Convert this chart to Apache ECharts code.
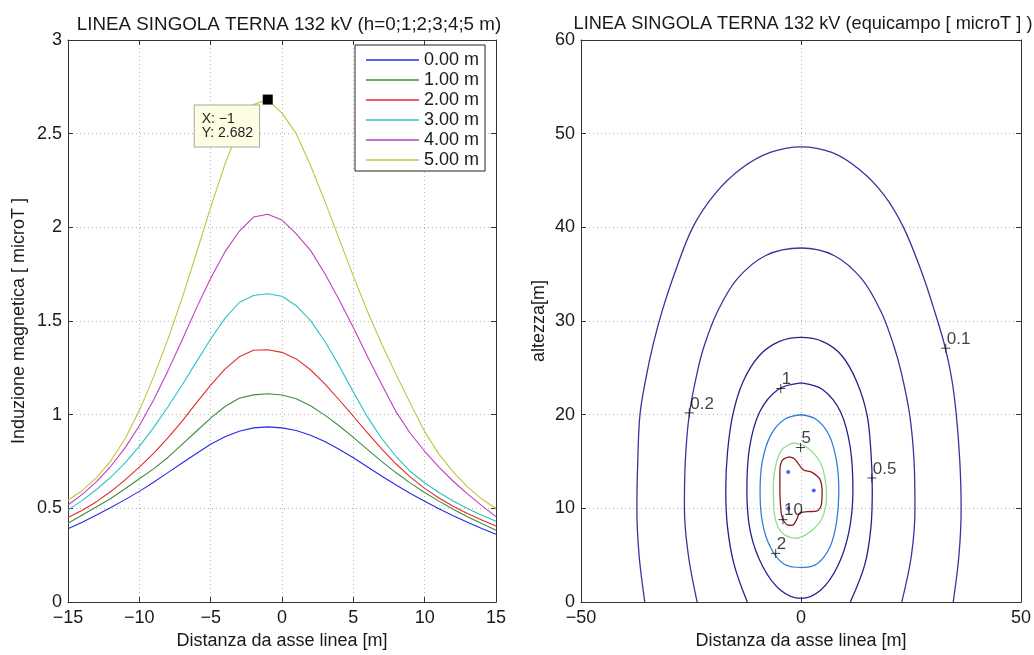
<!DOCTYPE html>
<html><head><meta charset="utf-8">
<script src="https://cdn.jsdelivr.net/npm/echarts@6/dist/echarts.min.js"></script>
<style>html,body{margin:0;padding:0;background:#fff}#c{width:1034px;height:655px}</style>
</head><body><div id="c"></div>
<script>
// ---------- LEFT PANEL DATA ----------
const distances = [-15,-14,-13,-12,-11,-10,-9,-8,-7,-6,-5,-4,-3,-2,-1,0,1,2,3,4,5,6,7,8,9,10,11,12,13,14,15];
const h0 = [0.391,0.426,0.465,0.505,0.547,0.591,0.640,0.691,0.742,0.793,0.842,0.882,0.912,0.930,0.935,0.930,0.916,0.891,0.857,0.816,0.770,0.721,0.672,0.625,0.580,0.538,0.498,0.461,0.426,0.393,0.362];
const h1 = [0.421,0.465,0.509,0.553,0.605,0.658,0.711,0.772,0.842,0.912,0.982,1.044,1.088,1.106,1.112,1.105,1.085,1.048,0.998,0.941,0.879,0.814,0.750,0.690,0.635,0.585,0.539,0.496,0.456,0.419,0.384];
const h2 = [0.451,0.490,0.536,0.590,0.652,0.720,0.794,0.876,0.966,1.063,1.158,1.243,1.309,1.344,1.347,1.333,1.298,1.240,1.165,1.080,0.992,0.902,0.816,0.737,0.667,0.607,0.556,0.512,0.473,0.438,0.406];
const h3 = [0.491,0.543,0.601,0.667,0.743,0.831,0.931,1.041,1.159,1.282,1.404,1.514,1.599,1.636,1.646,1.632,1.582,1.502,1.392,1.262,1.122,0.987,0.872,0.777,0.697,0.637,0.585,0.540,0.500,0.464,0.432];
const h4 = [0.518,0.575,0.643,0.725,0.823,0.941,1.079,1.234,1.399,1.569,1.729,1.869,1.979,2.055,2.070,2.039,1.965,1.877,1.754,1.614,1.465,1.310,1.160,1.015,0.900,0.805,0.720,0.645,0.578,0.515,0.456];
const h5 = [0.544,0.596,0.664,0.754,0.872,1.022,1.202,1.402,1.622,1.862,2.107,2.337,2.530,2.655,2.682,2.610,2.500,2.330,2.140,1.940,1.740,1.550,1.375,1.215,1.060,0.910,0.790,0.695,0.615,0.550,0.500];
const heightNames = ['0.00 m','1.00 m','2.00 m','3.00 m','4.00 m','5.00 m'];
const lineColors = ['#2a2ae6','#3c8f3c','#e32b2b','#2cc2c2','#c23dc2','#c4c43c'];
const markerX = -1, markerY = 2.682;
const leftXTicks = {min:-15, max:15, interval:5};
const leftYTicks = {min:0, max:3, interval:0.5};

// ---------- RIGHT PANEL DATA (contour lines) ----------
const contour01 = [[-35.5,0],[-36.8,5],[-37.3,10],[-37.1,15],[-36.6,20],[-35.2,24],[-33.6,27.5],[-31.6,31],[-28.8,35],[-24.6,40],[-19.5,43.6],[-13.5,46.3],[-7,48],[0,48.6],[7,48],[13.2,46.2],[18.8,43.5],[23.3,40],[27.6,35],[30.4,31],[32.6,27.5],[34.2,24],[35.3,20],[36.1,15],[36.4,10],[35.9,5],[34.6,0]];
const contour02 = [[-23.6,0],[-25.6,5],[-26.5,10],[-26.3,15],[-25.4,20],[-23.6,24.5],[-21.9,27.5],[-19,31],[-14.5,34.5],[-8,37],[0,37.8],[7.5,37],[13.8,34.5],[18.2,31],[21,27.5],[22.8,24.5],[24.7,20],[25.7,15],[25.9,10],[25.1,5],[22.9,0]];
const contour05 = [[-12.2,0],[-15.2,4],[-16.7,8],[-17.1,12],[-16.7,16],[-15.5,20],[-13.2,23.5],[-9.5,26.3],[-5,27.8],[0,28.25],[5,27.8],[9.3,26.3],[12.7,23.5],[15,20],[15.9,16],[16.2,12],[15.9,8],[14.5,4],[11.2,0]];
const contour1 = [[0,23.4],[-5.2,22.7],[-9.4,20.3],[-11.7,16.5],[-12.3,11.9],[-11.5,7.5],[-8.7,3.8],[-4.7,1.3],[0,0.4],[4.5,1.3],[8.3,3.8],[10.9,7.5],[11.8,11.9],[11.2,16.5],[9,20.3],[4.9,22.7],[0,23.4]];
const contour2 = [[0,20.0],[-3.8,19.5],[-6.9,17.8],[-8.8,15],[-9.3,11.8],[-8.8,8.6],[-7.0,5.9],[-4,4.1],[0,3.7],[3.7,4.1],[6.6,5.9],[8.1,8.6],[8.6,11.8],[8.1,15],[6.4,17.8],[3.5,19.5],[0,20.0]];
const contour5 = [[-1.6,17.0],[1.4,16.5],[4.4,14.9],[5.5,13.1],[5.8,11.4],[4.8,8.95],[2.2,7.55],[-1.2,6.8],[-4.6,7.55],[-6.1,9.65],[-6.3,12.4],[-5.8,14.5],[-4.3,16.3],[-1.6,17.0]];
const contour10 = [[-2.75,15.5],[-4.3,15.1],[-4.8,13.85],[-4.8,12.1],[-4.65,10.35],[-4.3,9.1],[-3.1,8.25],[-2.0,8.2],[-1.0,8.8],[-0.3,9.5],[1.4,9.65],[3.5,9.7],[4.6,10.35],[4.8,11.75],[4.3,13.1],[2.5,13.85],[0.6,14.1],[-0.5,14.7],[-1.5,15.3],[-2.75,15.5]];
const contourLevels = ['0.1','0.2','0.5','1','2','5','10'];
const contourData = [contour01, contour02, contour05, contour1, contour2, contour5, contour10];
const contourColors = ['#35359e','#35359e','#22228f','#22228f','#3a7ade','#8ee08e','#8c1c1c'];
const contourLabels = [[32.9,27.1,'0.1'],[-25.4,20.2,'0.2'],[16.1,13.25,'0.5'],[-4.6,22.8,'1'],[-5.75,5.2,'2'],[-0.1,16.5,'5'],[-4.1,8.8,'10']];
const conductors = [[-2.9,13.9],[2.9,11.9],[-2.9,10.0]];
const rightXTicks = {min:-50, max:50, interval:50};
const rightYTicks = {min:0, max:60, interval:10};

const FONT = '"Liberation Sans", Arial, Helvetica, sans-serif';
const fmtNum = v => (v < 0 ? '\u2212' + Math.abs(v) : String(v));
const splitStyle = {show:true, lineStyle:{color:'#b5b5b5', type:[1,3], width:1}};
const axisLineStyle = {show:true, onZero:false, lineStyle:{color:'#333', width:1}};
const tick = {show:true, inside:true, length:5, lineStyle:{color:'#333'}};

function mainX(grid, t, name) {
  return {gridIndex:grid, type:'value', position:'bottom', min:t.min, max:t.max, interval:t.interval,
    axisLine:axisLineStyle, axisTick:tick, splitLine:splitStyle,
    axisLabel:{fontSize:18, color:'#1a1a1a', margin:7, formatter:fmtNum, fontFamily:FONT},
    name:name, nameLocation:'middle', nameGap:24, nameTextStyle:{fontSize:18, color:'#1a1a1a', fontFamily:FONT}};
}
function topX(grid, t) {
  return {gridIndex:grid, type:'value', position:'top', min:t.min, max:t.max, interval:t.interval,
    axisLine:axisLineStyle, axisTick:tick, splitLine:{show:false}, axisLabel:{show:false}};
}
function mainY(grid, t, name, gap) {
  return {gridIndex:grid, type:'value', position:'left', min:t.min, max:t.max, interval:t.interval,
    axisLine:axisLineStyle, axisTick:tick, splitLine:splitStyle,
    axisLabel:{fontSize:18, color:'#1a1a1a', margin:6, formatter:fmtNum, fontFamily:FONT},
    name:name, nameLocation:'middle', nameGap:gap, nameTextStyle:{fontSize:18, color:'#1a1a1a', fontFamily:FONT}};
}
function rightY(grid, t) {
  return {gridIndex:grid, type:'value', position:'right', min:t.min, max:t.max, interval:t.interval,
    axisLine:axisLineStyle, axisTick:tick, splitLine:{show:false}, axisLabel:{show:false}};
}

const heightSeries = [h0,h1,h2,h3,h4,h5];
const series = heightSeries.map((arr, i) => ({
  name: heightNames[i], type:'line', xAxisIndex:0, yAxisIndex:0,
  data: distances.map((x, k) => [x, arr[k]]),
  symbol:'none', showSymbol:false, smooth:false, lineStyle:{width:1.1, color:lineColors[i]}, itemStyle:{color:lineColors[i]},
  z: 3
}));
// data tip marker on the 5 m curve
series[5].markPoint = {
  symbol:'rect', symbolSize:10, itemStyle:{color:'#000'}, silent:true,
  data:[{coord:[markerX, markerY]}],
  label:{show:true, formatter:'X: \u2212' + Math.abs(markerX) + '\nY: ' + markerY.toFixed(3),
    position:[-68, 11], align:'left', verticalAlign:'top',
    backgroundColor:'#fdfde4', borderColor:'#a8a8a0', borderWidth:1, padding:[6,6,6,7],
    fontSize:14, lineHeight:14.5, color:'#222', fontFamily:FONT}
};

contourData.forEach((pts, i) => {
  series.push({name:'level ' + contourLevels[i], type:'line', xAxisIndex:2, yAxisIndex:2, data:pts,
    symbol:'none', smooth:0.35, lineStyle:{width:1.3, color:contourColors[i]}, z:3, silent:true});
});
series.push({name:'labels', type:'scatter', xAxisIndex:2, yAxisIndex:2, data:contourLabels.map(d => [d[0], d[1], d[2]]),
  symbol:'path://M5,0L5,10M0,5L10,5', symbolSize:9,
  itemStyle:{color:'rgba(0,0,0,0)', borderColor:'#111', borderWidth:1},
  label:{show:true, formatter:p => p.data[2], position:[6,-4], align:'left', verticalAlign:'middle',
    fontSize:17, color:'#111', fontFamily:FONT}, z:5, silent:true});
series.push({name:'conductors', type:'scatter', xAxisIndex:2, yAxisIndex:2, data:conductors, symbol:'circle', symbolSize:4,
  itemStyle:{color:'#1f3fe0'}, z:5, silent:true});

const option = {
  backgroundColor:'#fff',
  animation:false,
  textStyle:{fontFamily:FONT},
  title:[
    {text:'LINEA SINGOLA TERNA 132 kV (h=0;1;2;3;4;5 m)', left:284, top:10, textAlign:'center',
      textStyle:{fontSize:18.8, fontWeight:'normal', color:'#1a1a1a', fontFamily:FONT}},
    {text:'LINEA SINGOLA TERNA 132 kV (equicampo [ microT ] )', left:798, top:10, textAlign:'center',
      textStyle:{fontSize:18.2, fontWeight:'normal', color:'#1a1a1a', fontFamily:FONT}}
  ],
  legend:{show:true, data:heightNames, orient:'vertical', left:355, top:45, padding:[6,6,2,11],
    itemWidth:53, itemHeight:1.3, itemGap:2, icon:'rect',
    backgroundColor:'#fff', borderColor:'#222', borderWidth:1, z:10,
    textStyle:{fontSize:18, color:'#1a1a1a', fontFamily:FONT}},
  grid:[
    {left:68, right:538, top:40, bottom:43, show:true, backgroundColor:'#fff', borderWidth:0},
    {left:581, right:11, top:40, bottom:43, show:true, backgroundColor:'#fff', borderWidth:0}
  ],
  xAxis:[mainX(0, leftXTicks, 'Distanza da asse linea [m]'), topX(0, leftXTicks),
         mainX(1, rightXTicks, 'Distanza da asse linea [m]'), topX(1, rightXTicks)],
  yAxis:[mainY(0, leftYTicks, 'Induzione magnetica [ microT ]', 40), rightY(0, leftYTicks),
         mainY(1, rightYTicks, 'altezza[m]', 33), rightY(1, rightYTicks)],
  series:series
};
const chart = echarts.init(document.getElementById('c'), null, {renderer:'canvas'});
chart.setOption(option);
</script></body></html>
